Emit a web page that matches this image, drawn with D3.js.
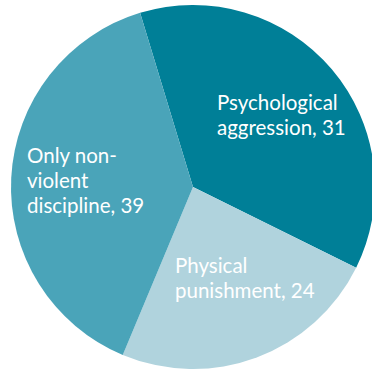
<!DOCTYPE html>
<html><head><meta charset="utf-8">
<script src="https://cdn.jsdelivr.net/npm/d3@7/dist/d3.min.js"></script>
<style>html,body{margin:0;padding:0;background:#fff;}svg{display:block;}</style>
</head><body>
<svg id="chart" width="372" height="371"></svg>
<script>
// Data
const categories = ["Psychological aggression", "Physical punishment", "Only non-violent discipline"];
const sliceValues = [37, 24, 39];          // slice sizes as drawn
const labelValues = [31, 24, 39];          // numbers printed in the labels
const labelLines = [
  ["Psychological", "aggression, " + labelValues[0]],
  ["Physical", "punishment, " + labelValues[1]],
  ["Only non-", "violent", "discipline, " + labelValues[2]]
];
const colors = ["#007f97", "#b0d3dd", "#4aa4b9"];

const svg = d3.select("#chart");
const cx = 193, cy = 187, R = 182;
const g = svg.append("g").attr("transform", `translate(${cx},${cy})`);

const pie = d3.pie().sort(null).value(d => d)
  .startAngle(-16.9 * Math.PI / 180)
  .endAngle(-16.9 * Math.PI / 180 + 2 * Math.PI);
const arc = d3.arc().innerRadius(0).outerRadius(R);

g.selectAll("path").data(pie(sliceValues)).join("path")
  .attr("d", arc).attr("fill", (d, i) => colors[i]);

// label layout (left x, first baseline y) relative to svg
const labelPos = [[217, 110], [175, 273], [27, 163]];
const fs = 20.5, lh = 25;
labelLines.forEach((lines, i) => {
  const t = svg.append("text")
    .attr("x", labelPos[i][0]).attr("y", labelPos[i][1])
    .attr("fill", "#fff")
    .style("font-family", "Lato, 'Open Sans', sans-serif")
    .style("font-weight", 400)
    .style("font-size", fs + "px");
  lines.forEach((l, j) => {
    t.append("tspan").attr("x", labelPos[i][0]).attr("y", labelPos[i][1] + j * lh).text(l);
  });
});
</script>
</body></html>
